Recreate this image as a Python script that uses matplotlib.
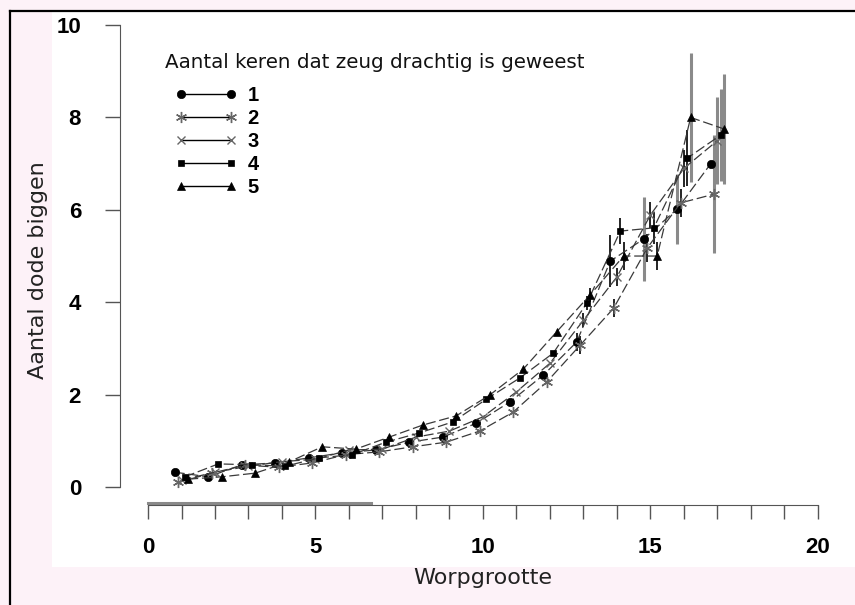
import numpy as np
import matplotlib
matplotlib.use("Agg")
import matplotlib.pyplot as plt
from matplotlib.lines import Line2D
from matplotlib.patches import Rectangle

# worpgrootte (litter size) and mean number of dead piglets per parity group
worp = np.arange(1, 18)

dood_1 = [0.32, 0.22, 0.48, 0.52, 0.63, 0.74, 0.80, 0.97, 1.08, 1.38, 1.84, 2.42, 3.14, 4.89, 5.37, 6.02, 7.00]
dood_2 = [0.10, 0.30, 0.47, 0.43, 0.52, 0.70, 0.76, 0.87, 0.97, 1.21, 1.62, 2.27, 3.07, 3.87, 5.17, 6.15, 6.34]
dood_3 = [0.15, 0.32, 0.45, 0.55, 0.60, 0.80, 0.82, 1.08, 1.21, 1.52, 2.06, 2.68, 3.61, 4.55, 5.89, 6.90, 7.50]
dood_4 = [0.22, 0.50, 0.48, 0.45, 0.63, 0.70, 0.97, 1.17, 1.41, 1.90, 2.36, 2.90, 3.98, 5.54, 5.61, 7.12, 7.62]
dood_5 = [0.17, 0.22, 0.30, 0.54, 0.87, 0.82, 1.08, 1.34, 1.54, 1.99, 2.55, 3.36, 4.16, 5.00, 5.00, 8.00, 7.75]

fout_1 = [0] * 12 + [0.20, 0.56, 0.90, 0.76, 0.00]
fout_2 = [0] * 12 + [0.20, 0.20, 0.30, 0.30, 1.27]
fout_3 = [0] * 12 + [0.15, 0.20, 0.28, 0.40, 0.95]
fout_4 = [0] * 12 + [0.15, 0.28, 0.35, 0.60, 1.00]
fout_5 = [0] * 12 + [0.15, 0.30, 0.30, 1.40, 1.20]

groepen = ["1", "2", "3", "4", "5"]

series = [dood_1, dood_2, dood_3, dood_4, dood_5]
fouten = [fout_1, fout_2, fout_3, fout_4, fout_5]

# drawing styles per group
verschuiving = [-0.2, -0.1, 0.0, 0.1, 0.2]
stijlen = [
    dict(marker="o", ms=6, mfc="black", mec="black", mew=0.5),
    dict(marker=(6, 2, 0), ms=8, mfc="#666666", mec="#666666", mew=1.0),
    dict(marker="x", ms=5.5, mfc="#666666", mec="#666666", mew=1.0),
    dict(marker="s", ms=5, mfc="black", mec="black", mew=0.5),
    dict(marker="^", ms=6, mfc="black", mec="black", mew=0.5),
]

W, H = 855, 605
fig = plt.figure(figsize=(W / 100, H / 100), dpi=100)
fig.patch.set_facecolor("#fdf2f8")

# white plot panel and the scanned frame lines
fig.add_artist(Rectangle((52 / W, 1 - 567 / H), (W - 52) / W, (567 - 12) / H,
                         transform=fig.transFigure, facecolor="white",
                         edgecolor="none", zorder=0))
fig.add_artist(Line2D([10 / W, 10 / W], [0, 1 - 11 / H], transform=fig.transFigure,
                      color="black", lw=1.6))
fig.add_artist(Line2D([10 / W, 1], [1 - 11 / H, 1 - 11 / H], transform=fig.transFigure,
                      color="black", lw=1.6))

ax = fig.add_axes([120 / W, 1 - 505 / H, 708 / W, 485 / H])
ax.set_facecolor("none")
ax.set_xlim(-0.836, 20.3)
ax.set_ylim(-0.39, 10.11)

for ys, err, dx, st in zip(series, fouten, verschuiving, stijlen):
    xs = worp + dx
    ys = np.array(ys)
    err = np.array(err)
    m = err > 0
    kleur = ["#8a8a8a" if e > 0.7 else "black" for e in err[m]]
    dikte = [2.2 if e > 0.7 else 1.2 for e in err[m]]
    ax.vlines(xs[m], ys[m] - err[m], ys[m] + err[m], colors=kleur, linewidths=dikte, zorder=2)
    ax.plot(xs, ys, color="#3a3a3a", lw=0.9, ls=(0, (8, 3)), zorder=3, **st)

for side in ["top", "right"]:
    ax.spines[side].set_visible(False)
ax.spines["left"].set_bounds(0, 10)
ax.spines["bottom"].set_bounds(0, 20)
ax.spines["left"].set_color("#555555")
ax.spines["bottom"].set_color("#555555")
# grey smudge over the first part of the x axis in the scan
ax.axhline(-0.34, xmin=0.836 / 21.136, xmax=(0.836 + 6.65) / 21.136,
           color="#8a8a8a", lw=2.2, zorder=1)

ax.set_yticks(range(0, 11, 2))
ax.set_xticks(range(0, 21))
ax.set_xticklabels([str(i) if i % 5 == 0 else "" for i in range(21)])
ax.tick_params(axis="y", length=11, width=1, color="#555555", pad=17)
ax.tick_params(axis="x", length=10, width=1, color="#555555", pad=13)
for lab in ax.get_xticklabels() + ax.get_yticklabels():
    lab.set_fontfamily(["Liberation Sans", "DejaVu Sans"])
    lab.set_fontweight("bold")
    lab.set_fontsize(16)

ax.set_xlabel("Worpgrootte", fontsize=16, family="DejaVu Sans", color="#222222")
ax.set_ylabel("Aantal dode biggen", fontsize=16, family="DejaVu Sans", color="#222222")
ax.xaxis.label.set_va("center")
ax.yaxis.label.set_va("center")
ax.xaxis.set_label_coords((483 - 120) / 708, (505 - 578) / 485)
ax.yaxis.set_label_coords((38 - 120) / 708, (505 - 270) / 485)

fig.text(165 / W, 1 - 62 / H, "Aantal keren dat zeug drachtig is geweest",
         fontsize=14.3, family="DejaVu Sans", va="center", ha="left", color="#111111")

handles = [Line2D([], [], color="black", lw=1.0, **st) for st in stijlen]
leg = fig.legend(handles, groepen, loc="upper left",
                 bbox_to_anchor=(175 / W, 1 - 86 / H), bbox_transform=fig.transFigure,
                 frameon=False, numpoints=2, handlelength=3.1, handletextpad=0.5,
                 labelspacing=0.2, borderpad=0, borderaxespad=0,
                 prop=dict(family="Liberation Sans", weight="bold", size=14.5))

fig.savefig("out.png", dpi=100, facecolor=fig.get_facecolor())
